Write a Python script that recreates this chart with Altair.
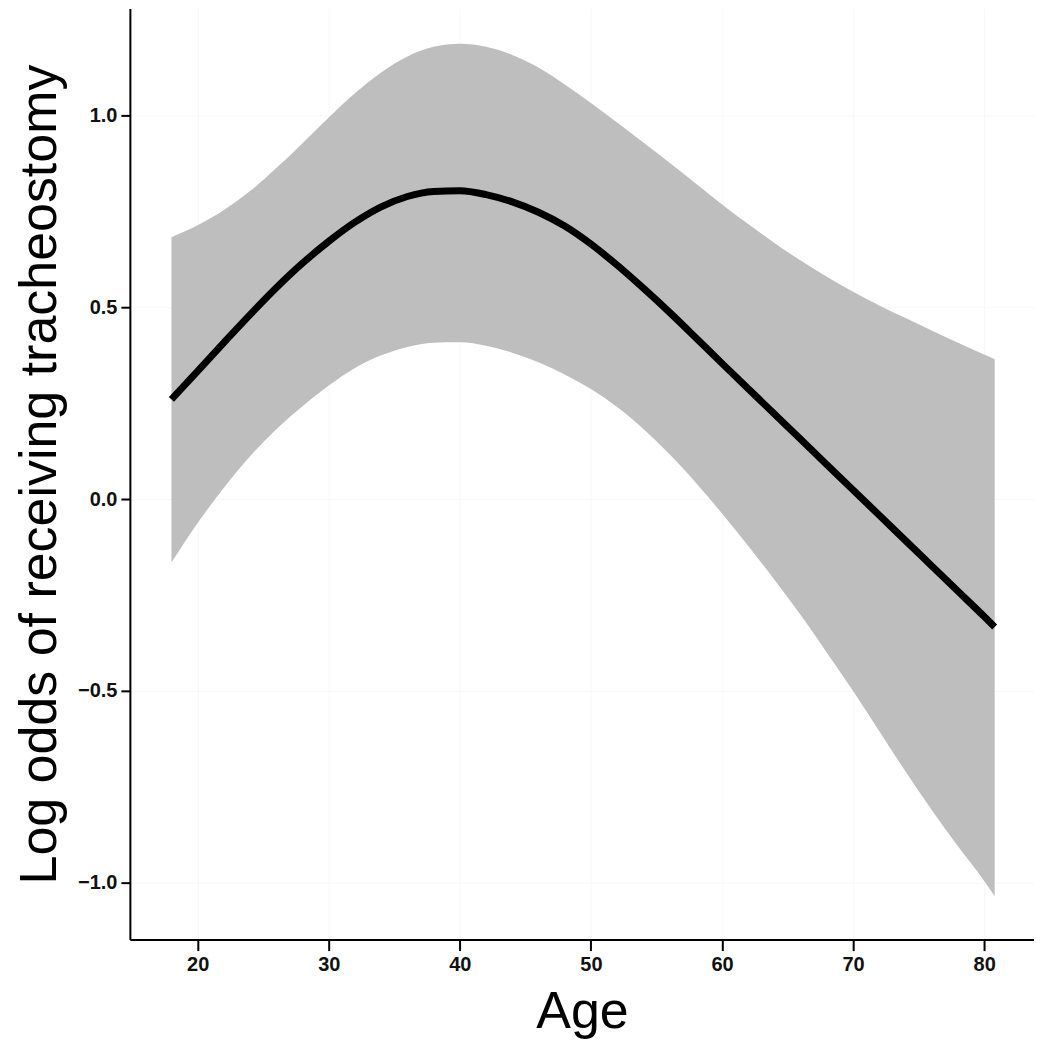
import altair as alt
import pandas as pd

ages = [18, 20, 22, 24, 26, 28, 30, 32, 34, 36, 38, 40, 42, 44, 46, 48, 50,
        52, 54, 56, 58, 60, 62, 64, 66, 68, 70, 72, 74, 76, 78, 80, 80.8]
fit = [0.260, 0.334, 0.408, 0.481, 0.551, 0.615, 0.672, 0.722, 0.762, 0.789, 0.802,
       0.804, 0.794, 0.775, 0.748, 0.712, 0.665, 0.610, 0.550, 0.487, 0.421, 0.354,
       0.288, 0.222, 0.156, 0.090, 0.024, -0.042, -0.108, -0.174, -0.240, -0.306, -0.333]
upper = [0.683, 0.714, 0.754, 0.803, 0.863, 0.928, 0.995, 1.058, 1.112, 1.154, 1.179,
         1.187, 1.179, 1.158, 1.125, 1.081, 1.033, 0.982, 0.930, 0.877, 0.823, 0.768,
         0.717, 0.668, 0.622, 0.580, 0.541, 0.505, 0.472, 0.440, 0.408, 0.377, 0.365]
lower = [-0.165, -0.062, 0.030, 0.112, 0.182, 0.242, 0.296, 0.342, 0.375, 0.397, 0.408,
         0.409, 0.400, 0.382, 0.357, 0.325, 0.287, 0.240, 0.183, 0.117, 0.043, -0.037,
         -0.122, -0.210, -0.302, -0.400, -0.500, -0.605, -0.710, -0.810, -0.905, -0.995, -1.035]

x_ticks = [20, 30, 40, 50, 60, 70, 80]
y_ticks = [-1.0, -0.5, 0.0, 0.5, 1.0]

df = pd.DataFrame({"age": ages, "fit": fit, "lo": lower, "hi": upper})

xscale = alt.Scale(domain=[14.83, 83.8], nice=False, zero=False)
yscale = alt.Scale(domain=[-1.148, 1.279], nice=False, zero=False)

xaxis = alt.Axis(values=x_ticks, title="Age", format="d", tickSize=11,
                 labelPadding=4, titlePadding=12, titleFontSize=52)
yaxis = alt.Axis(values=y_ticks, title="Log odds of receiving tracheostomy",
                 format=".1f", tickSize=9, labelPadding=4, titlePadding=11,
                 titleFontSize=52)

band = alt.Chart(df).mark_area(color="#bebebe", opacity=1, interpolate="monotone").encode(
    x=alt.X("age:Q", scale=xscale, axis=xaxis),
    y=alt.Y("lo:Q", scale=yscale, axis=yaxis),
    y2="hi:Q",
)

line = alt.Chart(df).mark_line(color="black", strokeWidth=7, interpolate="monotone").encode(
    x=alt.X("age:Q", scale=xscale),
    y=alt.Y("fit:Q", scale=yscale),
)

chart = (band + line).properties(
    width=905, height=932,
    autosize=alt.AutoSizeParams(type="none"),
    padding={"left": 122, "top": 0, "right": 0, "bottom": 108},
    background="white",
).configure_view(stroke=None).configure_axis(
    domainColor="black", domainWidth=2,
    tickColor="black", tickWidth=2,
    grid=True, gridColor="#f7f7f7", gridWidth=1,
    labelFont="Liberation Sans", labelFontSize=20, labelFontWeight="bold", labelColor="#111",
    titleFont="Liberation Sans", titleFontWeight="normal", titleColor="black",
)

chart.save("out.html", embed_options={"renderer": "svg", "actions": False})
